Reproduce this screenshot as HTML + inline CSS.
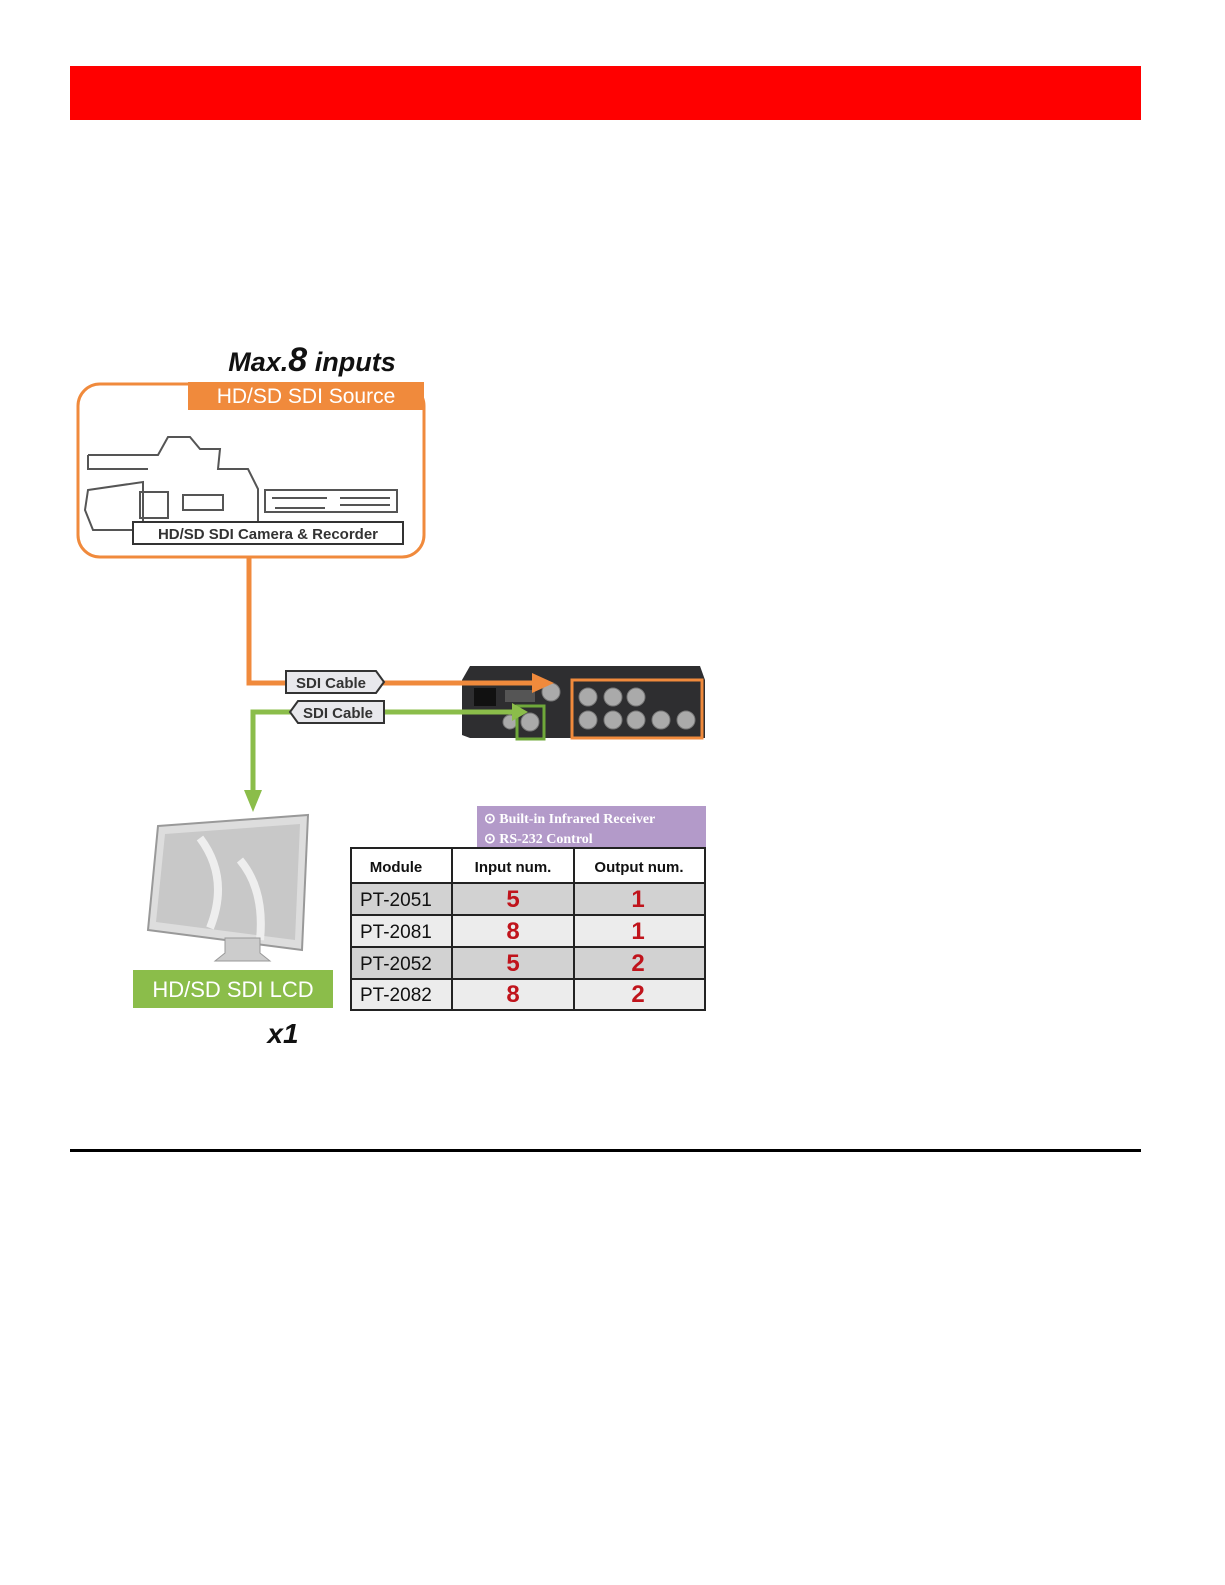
<!DOCTYPE html>
<html><head><meta charset="utf-8"><style>
body{margin:0;width:1225px;height:1585px;background:#fff;position:relative;font-family:"Liberation Sans",sans-serif;overflow:hidden}
.a{position:absolute}
</style></head><body>
<div class="a" style="left:70px;top:66px;width:1071px;height:54px;background:#ff0000"></div>
<div class="a" style="left:70px;top:1149px;width:1071px;height:3px;background:#000"></div>
<svg class="a" style="left:0;top:0" width="1225" height="1585">
<!-- orange box -->
<rect x="78" y="384" width="346" height="173" rx="22" fill="#fff" stroke="#f08a3c" stroke-width="3"/>
<rect x="188" y="382" width="236" height="28" fill="#f08a3c"/>
<text x="306" y="403" font-size="21" fill="#fff" text-anchor="middle">HD/SD SDI Source</text>
<text x="312" y="371" font-size="27" font-weight="bold" font-style="italic" text-anchor="middle" fill="#111">Max.<tspan font-size="34">8</tspan> inputs</text>
<!-- camera sketch -->
<g fill="none" stroke="#555" stroke-width="2">
<path d="M88,455 h70 l10,-18 h22 l10,12 h20 l-2,20 h30 l10,20 v40 h-10 M88,455 v14 h60"/>
<path d="M88,490 l55,-8 v48 h-50 l-8,-20z"/>
<rect x="140" y="492" width="28" height="26"/>
<path d="M183,495 h40 v15 h-40z"/>
<rect x="265" y="490" width="132" height="22"/>
<path d="M272,498 h55 M340,498 h50 M340,505 h50 M275,508 h50"/>
</g>
<rect x="133" y="522" width="270" height="22" fill="#fff" stroke="#333" stroke-width="2"/>
<text x="268" y="539" font-size="15" font-weight="bold" text-anchor="middle" fill="#333">HD/SD SDI Camera &amp; Recorder</text>
<!-- device -->
<path d="M470,666 L700,666 L705,680 L705,738 L470,738 L462,735 L462,680z" fill="#2e2e30"/>
<rect x="474" y="688" width="22" height="18" fill="#111"/>
<rect x="505" y="690" width="30" height="12" fill="#555"/>
<g fill="#aaa" stroke="#777">
<circle cx="551" cy="692" r="9"/><circle cx="530" cy="722" r="9"/><circle cx="510" cy="722" r="7"/>
<circle cx="588" cy="697" r="9"/><circle cx="613" cy="697" r="9"/><circle cx="636" cy="697" r="9"/>
<circle cx="588" cy="720" r="9"/><circle cx="613" cy="720" r="9"/><circle cx="636" cy="720" r="9"/><circle cx="661" cy="720" r="9"/><circle cx="686" cy="720" r="9"/>
</g>
<rect x="517" y="706" width="27" height="33" fill="none" stroke="#6fa83a" stroke-width="3"/>
<rect x="572" y="680" width="130" height="58" fill="none" stroke="#f08a3c" stroke-width="3"/>
<!-- lines -->
<path d="M249,557 L249,683 L535,683" fill="none" stroke="#f08a3c" stroke-width="5"/>
<path d="M532,673 L554,683 L532,693z" fill="#f08a3c"/>
<path d="M515,712 L253,712 L253,795" fill="none" stroke="#8bbd4a" stroke-width="5"/>
<path d="M244,790 L253,812 L262,790z" fill="#8bbd4a"/>
<path d="M512,703 L528,712 L512,721z" fill="#8bbd4a"/>
<!-- labels -->
<path d="M286,671 h90 l8,11 l-8,11 h-90z" fill="#e8e8ec" stroke="#333" stroke-width="2"/>
<text x="331" y="688" font-size="15" font-weight="bold" text-anchor="middle" fill="#333">SDI Cable</text>
<path d="M298,701 h86 v22 h-86 l-8,-11z" fill="#e8e8ec" stroke="#333" stroke-width="2"/>
<text x="338" y="718" font-size="15" font-weight="bold" text-anchor="middle" fill="#333">SDI Cable</text>
<!-- monitor -->
<path d="M158,826 L308,815 L302,950 L148,930z" fill="#ddd" stroke="#999" stroke-width="2"/>
<path d="M165,834 L300,824 L295,940 L156,922z" fill="#c8c8c8"/>
<path d="M200,838 q30,40 10,90 M240,860 q25,30 20,80" stroke="#eee" stroke-width="8" fill="none"/>
<path d="M225,938 h35 v15 l10,8 h-55 l10,-8z" fill="#ccc" stroke="#999"/>
<rect x="133" y="970" width="200" height="38" fill="#8bbd4a"/>
<text x="233" y="997" font-size="22" fill="#fff" text-anchor="middle">HD/SD SDI LCD</text>
<text x="283" y="1043" font-size="28" font-weight="bold" font-style="italic" text-anchor="middle" fill="#111">x1</text>
<!-- purple -->
<rect x="477" y="806" width="229" height="42" fill="#b39ac9"/>
<text x="484" y="823" font-size="14" fill="#fff" font-family="Liberation Serif" font-weight="bold">⊙ Built-in Infrared Receiver</text>
<text x="484" y="843" font-size="14" fill="#fff" font-family="Liberation Serif" font-weight="bold">⊙ RS-232 Control</text>
<!-- table -->
<rect x="350" y="848" width="356" height="35" fill="#fff"/>
<rect x="350" y="883" width="356" height="32" fill="#d2d2d2"/>
<rect x="350" y="915" width="356" height="32" fill="#ececec"/>
<rect x="350" y="947" width="356" height="32" fill="#d2d2d2"/>
<rect x="350" y="979" width="356" height="31" fill="#ececec"/>
<g stroke="#222" stroke-width="2">
<line x1="350" y1="848" x2="706" y2="848"/><line x1="350" y1="883" x2="706" y2="883"/><line x1="350" y1="915" x2="706" y2="915"/><line x1="350" y1="947" x2="706" y2="947"/><line x1="350" y1="979" x2="706" y2="979"/><line x1="350" y1="1010" x2="706" y2="1010"/>
<line x1="351" y1="848" x2="351" y2="1010"/><line x1="452" y1="848" x2="452" y2="1010"/><line x1="574" y1="848" x2="574" y2="1010"/><line x1="705" y1="848" x2="705" y2="1010"/>
</g>
<g font-size="15" font-weight="bold" text-anchor="middle" fill="#111">
<text x="396" y="872">Module</text><text x="513" y="872">Input num.</text><text x="639" y="872">Output num.</text>
</g>
<g font-size="19" fill="#111"><text x="360" y="906">PT-2051</text><text x="360" y="938">PT-2081</text><text x="360" y="970">PT-2052</text><text x="360" y="1001">PT-2082</text></g>
<g font-size="24" font-weight="bold" fill="#c0141c" text-anchor="middle">
<text x="513" y="907">5</text><text x="638" y="907">1</text>
<text x="513" y="939">8</text><text x="638" y="939">1</text>
<text x="513" y="971">5</text><text x="638" y="971">2</text>
<text x="513" y="1002">8</text><text x="638" y="1002">2</text>
</g>
</svg>
</body></html>
